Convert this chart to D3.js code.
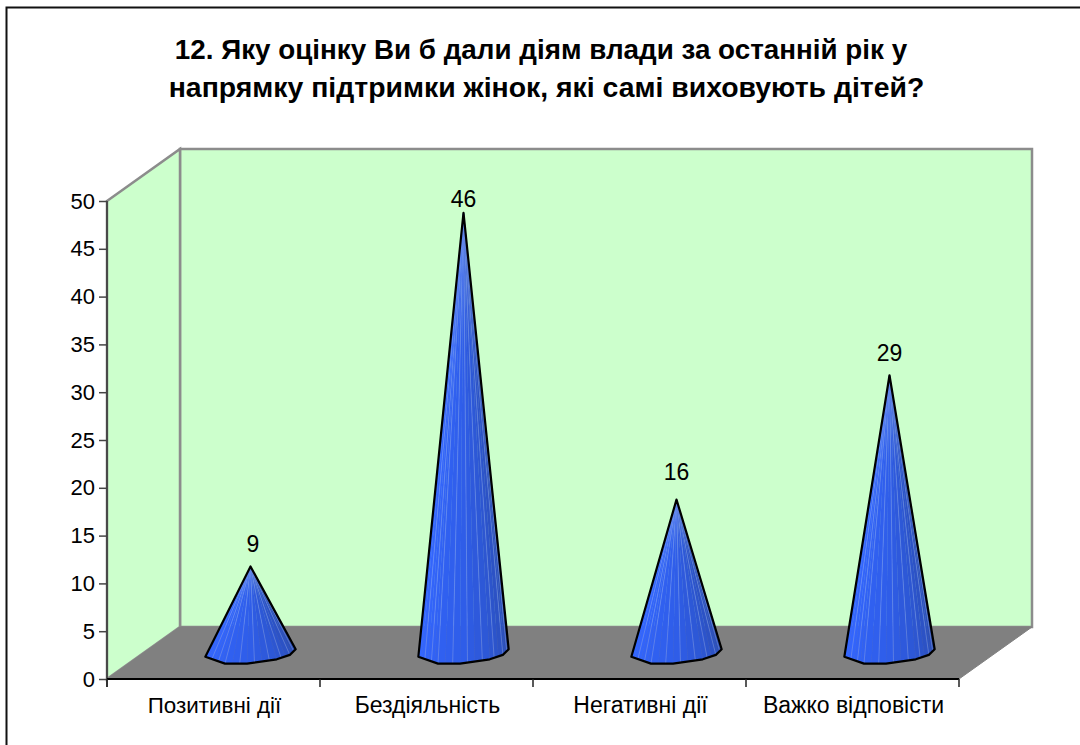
<!DOCTYPE html>
<html><head><meta charset="utf-8">
<script src="https://cdn.jsdelivr.net/npm/d3@7"></script>
<style>html,body{margin:0;padding:0;background:#fff}svg{display:block}text{font-family:"Liberation Sans",Arial,sans-serif;fill:#000}</style>
</head><body><svg id="c" width="1080" height="745"></svg>
<script>
const titleLines = ["12. Яку оцінку Ви б дали діям влади за останній рік у","напрямку підтримки жінок, які самі виховують дітей?"];
const categories = ["Позитивні дії","Бездіяльність","Негативні дії","Важко відповісти"];
const values = [9,46,16,29];
const yTicks = [0,5,10,15,20,25,30,35,40,45,50];

const W=1080,H=745;
const plot={l:107,r:959,t:201,b:679}, depth={x:73,y:52};
const labelLift=[14,6,20,14];
const svg=d3.select("#c");
const x=d3.scaleBand().domain(categories).range([plot.l,plot.r]);
const y=d3.scaleLinear().domain([0,50]).range([plot.b,plot.t]);
const line=d3.line();

// frame
svg.append("path").attr("d",line([[6.5,H],[6.5,7.5],[W,7.5]])).attr("fill","none").attr("stroke","#111").attr("stroke-width",2);

// title
svg.append("text").attr("text-anchor","middle").attr("font-weight","bold")
 .selectAll("tspan").data(titleLines).join("tspan").attr("font-size",(d,i)=>i?28.4:27.8).attr("x",(d,i)=>i?546.5:541).attr("y",(d,i)=>59+i*38).text(d=>d);

// walls
const B=plot.b,T=plot.t,L=plot.l,R=plot.r,dx=depth.x,dy=depth.y;
svg.append("path").attr("d",line([[L+dx,T-dy],[R+dx,T-dy],[R+dx,B-dy],[L+dx,B-dy]])+"Z").attr("fill","#ccffcc").attr("stroke","#8c8c8c").attr("stroke-width",2.5);
svg.append("path").attr("d",line([[L,T],[L+dx,T-dy],[L+dx,B-dy],[L,B]])+"Z").attr("fill","#ccffcc").attr("stroke","#8c8c8c").attr("stroke-width",2.5);
svg.append("path").attr("d",line([[L,B],[R,B],[R+dx,B-dy],[L+dx,B-dy]])+"Z").attr("fill","#808080").attr("stroke","#808080").attr("stroke-width",1);

// y axis
const ya=svg.append("g").attr("transform",`translate(${L},0)`).call(d3.axisLeft(y).tickValues(yTicks).tickSize(8).tickPadding(4));
ya.selectAll("line").attr("stroke","#444").attr("stroke-width",1.5);
ya.selectAll("text").attr("font-size",22).style("font-family",'"Liberation Sans",Arial,sans-serif');
ya.select(".domain").attr("d",`M0,${T}V${B+8}`).attr("stroke","#333").attr("stroke-width",1.5);
// x axis
svg.append("line").attr("x1",L).attr("x2",R).attr("y1",B).attr("y2",B).attr("stroke","#000").attr("stroke-width",2);
const edges=categories.map(c=>x(c)).concat([R]);
svg.append("g").selectAll("line").data(edges).join("line").attr("x1",d=>d).attr("x2",d=>d).attr("y1",B).attr("y2",B+8).attr("stroke","#222").attr("stroke-width",1.5);
svg.append("g").selectAll("text").data(categories).join("text").attr("text-anchor","middle").attr("font-size",(d,i)=>i?23:22.4)
 .attr("x",d=>x(d)+x.bandwidth()/2+1).attr("y",B+34).text(d=>d);

// cones
const radius=x.bandwidth()*0.2, shear=15, squash=11;
const rad=d=>d*Math.PI/180;
const rim=[200,255,285,325,350,380]; // facet angles on the visible base rim
const basePt=(cx,cy,t)=>[cx+radius*Math.cos(rad(t))+shear*Math.sin(rad(t)),cy-squash*Math.sin(rad(t))];
const colorAt=d3.scaleLinear().domain([0,0.5,1]).range(["#3366ff","#2f5de8","#2a4db4"]);
const defs=svg.append("defs");
const g=svg.append("g");
values.forEach((v,i)=>{
  const cx=x(categories[i])+x.bandwidth()/2+dx/2+0.5, cy=B-dy/2;
  const tip=[cx,y(v)-dy/2-0.5];
  const strips=[];
  for(let k=0;k<rim.length-1;k++){const n=Math.max(2,Math.round((rim[k+1]-rim[k])/9));
    const A=basePt(cx,cy,rim[k]),C=basePt(cx,cy,rim[k+1]),p=q=>[A[0]+(C[0]-A[0])*q,A[1]+(C[1]-A[1])*q];
    for(let j=0;j<n;j++) strips.push([p(j/n),p((j+1)/n)]);
  }
  const total=strips.length;
  strips.forEach((s,j)=>{
    const c=colorAt(j/(total-1));
    const id=`f${i}_${j}`;
    const gr=defs.append("linearGradient").attr("id",id).attr("gradientUnits","userSpaceOnUse").attr("x1",tip[0]).attr("y1",tip[1]).attr("x2",tip[0]).attr("y2",cy+squash);
    gr.append("stop").attr("offset",0).attr("stop-color",d3.interpolateRgb(c,"#7f9fe8")(0.4));
    gr.append("stop").attr("offset",0.3).attr("stop-color",c);
    gr.append("stop").attr("offset",1).attr("stop-color",c);
    g.append("path").attr("d",line([tip,s[0],s[1]])+"Z").attr("fill",`url(#${id})`).attr("stroke",`url(#${id})`).attr("stroke-width",0.4);
    if(j>0&&j%2==0) g.append("line").attr("x1",tip[0]).attr("y1",tip[1]).attr("x2",s[0][0]).attr("y2",s[0][1]).attr("stroke","#9db4f5").attr("stroke-opacity",0.45).attr("stroke-width",0.8);
  });
  const outline=[tip].concat(rim.map(t=>basePt(cx,cy,t)));
  g.append("path").attr("d",line(outline)+"Z").attr("fill","none").attr("stroke","#000").attr("stroke-width",2.2).attr("stroke-linejoin","round");
  svg.append("text").attr("text-anchor","middle").attr("font-size",23).attr("x",cx+(i==0?2.5:0)).attr("y",tip[1]-labelLift[i]).text(v);
});
</script></body></html>
